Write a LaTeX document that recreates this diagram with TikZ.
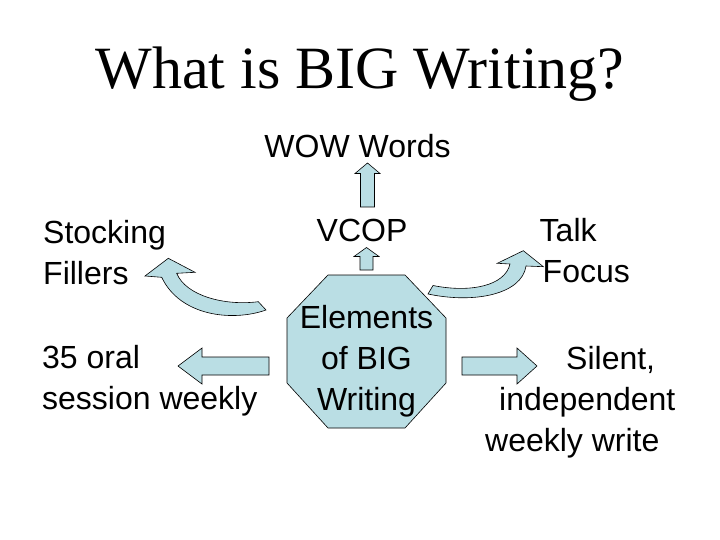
\documentclass[tikz,border=0pt]{standalone}
\usepackage{fontspec}
\setmainfont{Liberation Sans}
\newfontfamily\titlefont{Liberation Serif}
\usetikzlibrary{positioning}
\definecolor{shapeblue}{RGB}{186,222,228}

\begin{document}
\begin{tikzpicture}[x=1pt, y=-1pt]
			\tikzstyle{word} = [inner sep=0pt, font=\fontsize{32}{41}\selectfont]
			\tikzstyle{heading} = [inner sep=0pt, font=\titlefont\fontsize{60}{72}\selectfont]
			\tikzstyle{blockarrow} = [draw, fill=shapeblue, line width=0.6pt, line join=miter]
			\useasboundingbox[fill=white] (0,0) rectangle (720,540);

			\node[heading, anchor=base] (title) at (360,89) {What is BIG Writing?};

			% centre octagon
			\draw[blockarrow] (328,275) -- (405,275) -- (446,318) -- (446,383)
				-- (405,428) -- (328,428) -- (287,383) -- (287,318) -- cycle;

			% straight block arrows
			\draw[blockarrow] (367.5,163) -- (380,173.5) -- (374.5,173.5) -- (374.5,207)
				-- (360.5,207) -- (360.5,173.5) -- (355,173.5) -- cycle;
			\draw[blockarrow] (366.5,247.5) -- (379,256.5) -- (373,256.5) -- (373,270)
				-- (360,270) -- (360,256.5) -- (354,256.5) -- cycle;
			\draw[blockarrow] (178,366) -- (202,348) -- (202,357) -- (269,357)
				-- (269,375) -- (202,375) -- (202,384) -- cycle;
			\draw[blockarrow] (537,366) -- (517,348) -- (517,357) -- (462,357)
				-- (462,375) -- (517,375) -- (517,384) -- cycle;

			% curved block arrows
			\draw[blockarrow] (266,310) .. controls (232,322) and (180,316) .. (161.7,277.3)
				-- (145,276) -- (168.3,258.3) -- (195,272.3) -- (176.7,273.3)
				.. controls (186,296) and (225,306) .. (258.3,301.7) -- cycle;
			\draw[blockarrow] (428,294) .. controls (475,304) and (522,294) .. (526,266)
				-- (543.3,266.7) -- (523.3,250.7) -- (497.3,263.3) -- (510,264)
				.. controls (505,286) and (470,293) .. (433,285.5) -- cycle;

			% multi-line texts sit on the baseline of their last line
			\path
			node[word, anchor=base] (wow) at (357.5,158) {WOW Words}
			node[word, anchor=base] (vcop) at (362,241.7) {VCOP}
			node[word, align=center, anchor=base] (elements) at (366.5,410) {Elements\\of BIG\\Writing}
			node[word, align=left, anchor=base west] (stocking) at (43,284) {Stocking\\Fillers}
			node[word, align=left, anchor=base west] (talk) at (539.5,282.7) {Talk\\\hspace*{3pt}Focus}
			node[word, align=left, anchor=base west] (oral) at (42,409) {35 oral\\session weekly}
			node[word, align=left, anchor=base west] (silent) at (485,451) {\hspace*{81pt}Silent,\\\hspace*{14pt}independent\\weekly write}
			;
\end{tikzpicture}
\end{document}
